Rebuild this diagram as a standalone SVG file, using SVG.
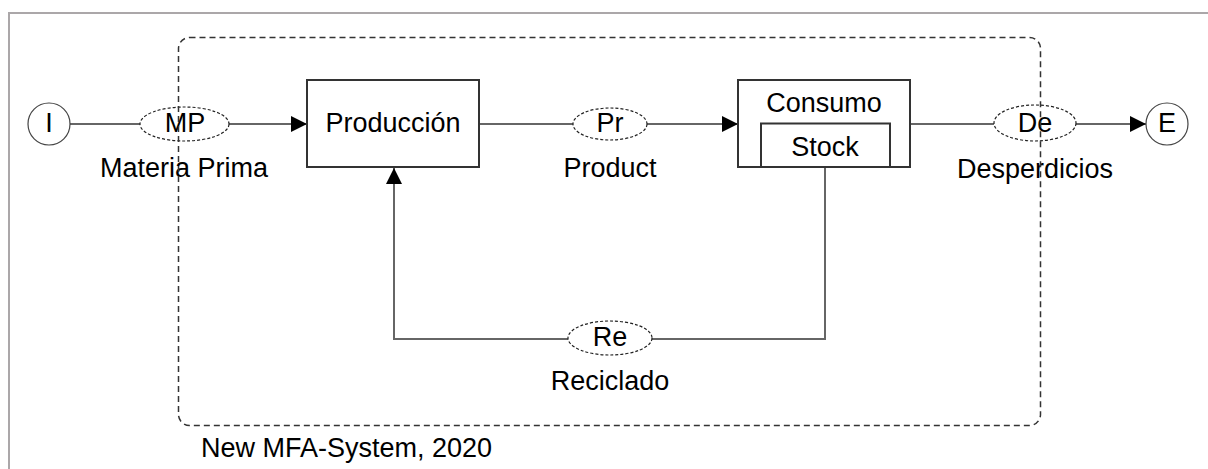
<svg xmlns="http://www.w3.org/2000/svg" width="1208" height="469" viewBox="0 0 1208 469">
<style>
text{font-family:"Liberation Sans",Arial,sans-serif;font-size:27px;fill:#000;text-anchor:middle}
.conn{fill:none;stroke:#666;stroke-width:2}
.box{fill:#fff;stroke:#333;stroke-width:2}
.flow{fill:#fff;stroke:#222;stroke-width:1.2;stroke-dasharray:3 2}
.term{fill:#fff;stroke:#444;stroke-width:1.2}
</style>
<defs>
<marker id="arr" markerUnits="userSpaceOnUse" markerWidth="16" markerHeight="16" refX="16" refY="8" orient="auto">
<path d="M0,0 L16,8 L0,16 z" fill="#000"/>
</marker>
</defs>
<rect width="1208" height="469" fill="#fff"/>
<path d="M9,469 V13 H1208" fill="none" stroke="#aba7a9" stroke-width="2"/>
<g id="connectors">
<line class="conn" x1="70" y1="124" x2="140" y2="124"/>
<line class="conn" x1="229" y1="124" x2="307" y2="124" marker-end="url(#arr)"/>
<line class="conn" x1="479" y1="124" x2="573" y2="124"/>
<line class="conn" x1="647" y1="124" x2="738" y2="124" marker-end="url(#arr)"/>
<line class="conn" x1="910" y1="124" x2="994" y2="124"/>
<line class="conn" x1="1076" y1="124" x2="1146" y2="124" marker-end="url(#arr)"/>
<polyline class="conn" points="825,167 825,339 652,339"/>
<polyline class="conn" points="568,339 394,339 394,168" marker-end="url(#arr)"/>
</g>
<g id="I">
<circle class="term" cx="49" cy="124" r="21"/>
<text x="49" y="132">I</text>
</g>
<g id="MP">
<ellipse class="flow" cx="184.5" cy="124" rx="44.5" ry="17"/>
<text x="185" y="132">MP</text>
<text x="184" y="177">Materia Prima</text>
</g>
<g id="Produccion">
<rect class="box" x="307" y="80" width="172" height="87"/>
<text x="393" y="132">Producción</text>
</g>
<g id="Pr">
<ellipse class="flow" cx="610" cy="124" rx="37" ry="16"/>
<text x="610" y="132">Pr</text>
<text x="610" y="177">Product</text>
</g>
<g id="Consumo">
<rect class="box" x="738" y="80" width="172" height="87"/>
<text x="824" y="112">Consumo</text>
<rect class="box" x="761" y="123.5" width="129" height="43.5"/>
<text x="825" y="156">Stock</text>
</g>
<g id="De">
<ellipse class="flow" cx="1035" cy="123" rx="41" ry="18"/>
<text x="1035" y="132">De</text>
<text x="1035" y="178">Desperdicios</text>
</g>
<g id="E">
<circle class="term" cx="1167" cy="124" r="21"/>
<text x="1167" y="132">E</text>
</g>
<g id="Re">
<ellipse class="flow" cx="610" cy="338" rx="42" ry="17"/>
<text x="610" y="346">Re</text>
<text x="610" y="390">Reciclado</text>
</g>
<g id="system-boundary">
<rect x="178.5" y="37.5" width="862" height="388" rx="11" fill="none" stroke="#333" stroke-width="1.5" stroke-dasharray="6 4"/>
<text x="201" y="457" style="text-anchor:start">New MFA-System, 2020</text>
</g>
</svg>
